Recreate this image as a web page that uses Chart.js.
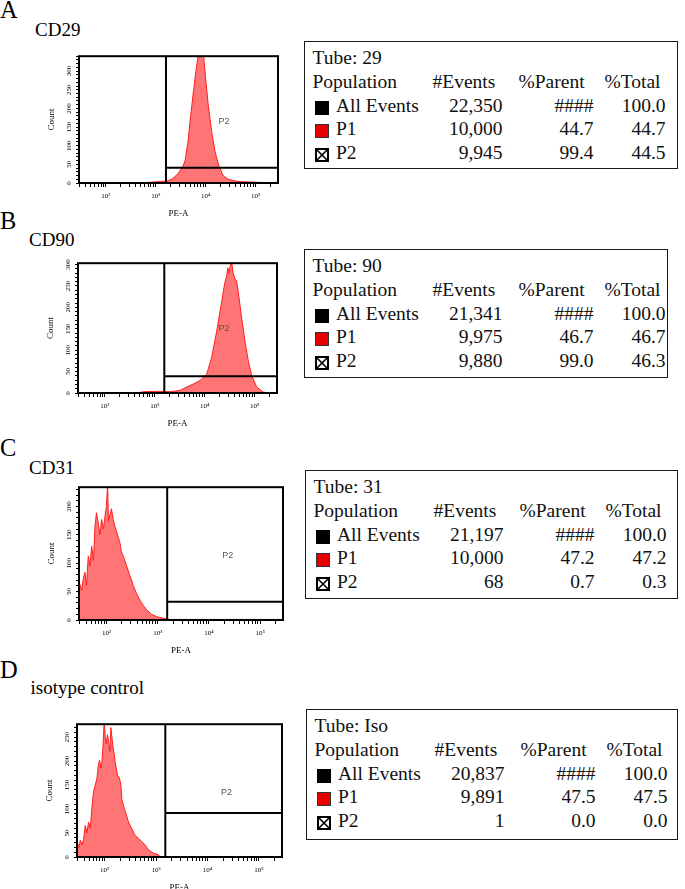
<!DOCTYPE html>
<html>
<head>
<meta charset="utf-8">
<title>Flow cytometry PE-A histograms</title>
<script src="https://cdn.jsdelivr.net/npm/chart.js@4.4.1/dist/chart.umd.min.js"></script>
<style>
  html, body { margin: 0; padding: 0; background: #fff; }
  body { position: relative; width: 685px; height: 889px; overflow: hidden;
         font-family: "Liberation Serif", "DejaVu Serif", "Times New Roman", serif; color: #000; }
  .txt { position: absolute; line-height: 1; white-space: nowrap; }
  .letter { font-size: 24.5px; }
  .marker { font-size: 19px; }
  .plot { position: absolute; }
  .stats { position: absolute; border: 1.5px solid #1a1a1a; box-sizing: border-box; }
  .cell { position: absolute; font-size: 19.5px; line-height: 1; white-space: nowrap; color: #111; }
  .sw { position: absolute; width: 14px; height: 14px; box-sizing: border-box; }
</style>
</head>
<body>
<script>
// Panel captions
const panelLetters = ['A', 'B', 'C', 'D'];
const markerNames = ['CD29', 'CD90', 'CD31', 'isotype control'];
const tubeNames = ['29', '90', '31', 'Iso'];

// Statistics tables
const tableHeader = ['Population', '#Events', '%Parent', '%Total'];
const populations = ['All Events', 'P1', 'P2'];
const cd29Events = ['22,350', '10,000', '9,945'];
const cd29Parent = ['####', '44.7', '99.4'];
const cd29Total = ['100.0', '44.7', '44.5'];
const cd90Events = ['21,341', '9,975', '9,880'];
const cd90Parent = ['####', '46.7', '99.0'];
const cd90Total = ['100.0', '46.7', '46.3'];
const cd31Events = ['21,197', '10,000', '68'];
const cd31Parent = ['####', '47.2', '0.7'];
const cd31Total = ['100.0', '47.2', '0.3'];
const isoEvents = ['20,837', '9,891', '1'];
const isoParent = ['####', '47.5', '0.0'];
const isoTotal = ['100.0', '47.5', '0.0'];

// Histograms: PE-A value and count
const cd29PE = [483, 766, 1213, 1600, 2109, 2780, 3505, 3844, 4413, 4840, 5640, 6300, 7100, 8040, 8810, 9970, 11250, 13150, 15300, 18400, 22500, 28300, 44300, 96900, 176600, 243800];
const cd29Count = [0, 2, 4, 5, 10, 25, 45, 59, 111, 164, 243, 295, 345, 380, 360, 279, 208, 138, 85, 45, 19, 10, 4, 2, 1, 0];

const cd90PE = [450, 589, 1270, 2014, 3192, 4351, 5902, 8040, 10940, 13770, 17340, 21860, 25000, 27540, 29000, 30620, 32500, 34670, 37000, 40370, 43500, 47000, 54960, 64000, 74500, 87100, 109600, 148800, 202800];
const cd90Count = [0, 3, 4, 3, 6, 14, 21, 29, 44, 83, 144, 213, 255, 274, 292, 280, 298, 305, 280, 266, 262, 236, 174, 121, 75, 41, 14, 2, 0];

const cd31PE = [29.4, 32.7, 34.7, 37.9, 40.6, 44.0, 47.5, 51.3, 55.6, 59.5, 63.6, 68.9, 74.4, 80.3, 87.1, 93.1, 99.5, 105, 109, 116.6, 124.8, 135, 146, 157, 171, 183, 195, 212, 229, 247, 268, 286, 309, 332, 358, 387, 449, 520, 606, 759, 950, 1277, 1726, 6640, 40000, 241500];
const cd31Count = [66, 52, 70, 84, 60, 113, 95, 130, 105, 165, 189, 171, 150, 177, 160, 182, 200, 240, 175, 185, 196, 177, 165, 156, 145, 136, 120, 113, 104, 95, 86, 78, 70, 61, 54, 46, 35, 26, 18, 10, 6, 3, 1, 1, 1, 1];

const isoPE = [29.8, 31.7, 33.6, 36.2, 38.9, 42.0, 45.3, 48.6, 52.5, 56.6, 60.8, 65.6, 70.8, 76.0, 79.5, 84.6, 88.5, 93.8, 98, 102.5, 107, 113.5, 118.7, 126.4, 132, 138, 144.5, 153, 160, 177.4, 194, 206.5, 216, 231.7, 250, 270, 290, 312.6, 337, 362, 391, 453, 527, 611, 708, 885, 1106, 1192];
const isoCount = [29, 20, 35, 25, 37, 66, 50, 73, 60, 103, 137, 150, 164, 195, 202, 185, 199, 240, 285, 250, 236, 255, 243, 220, 270, 250, 233, 215, 198, 171, 165, 150, 120, 108, 96, 85, 73, 66, 59, 52, 45, 39, 32, 25, 15, 8, 5, 0];

// P2 gate: lower PE-A bound and marker level (counts), label position
const gateStart = [1600, 1550, 1530, 1510];
const gateLevel = [41, 39, 32, 92];
const p2LabelPE = [23200, 24300, 23400, 23400];
const p2LabelCount = [166, 151, 113, 134];

// Axes
const xMin = 29, xMax = 280000;
const yMax = [340, 303, 234, 277];
const xMajorTicks = [100, 1000, 10000, 100000];
const xTickLabels = ['10²', '10³', '10⁴', '10⁵'];
const xMinorTicks = [30, 40, 50, 60, 70, 80, 90,
  200, 300, 400, 500, 600, 700, 800, 900,
  2000, 3000, 4000, 5000, 6000, 7000, 8000, 9000,
  20000, 30000, 40000, 50000, 60000, 70000, 80000, 90000, 200000];
const yLabelStep = 50;
const yMinorStep = 10;

const histPE = [cd29PE, cd90PE, cd31PE, isoPE];
const histCount = [cd29Count, cd90Count, cd31Count, isoCount];
const statEvents = [cd29Events, cd90Events, cd31Events, isoEvents];
const statParent = [cd29Parent, cd90Parent, cd31Parent, isoParent];
const statTotal = [cd29Total, cd90Total, cd31Total, isoTotal];

// page layout (pixels)
const layout = [
  { letterTop: -2, markerTop: 19.5, markerLeft: 35, plot: { l: 79, t: 54, r: 278, b: 183 }, table: { l: 304, t: 41, w: 374, h: 128 } },
  { letterTop: 208.5, markerTop: 229.5, markerLeft: 29, plot: { l: 78, t: 261, r: 277, b: 393 }, table: { l: 304, t: 249, w: 364, h: 129 } },
  { letterTop: 435.5, markerTop: 457.5, markerLeft: 29, plot: { l: 79, t: 485, r: 283, b: 620 }, table: { l: 305, t: 470, w: 373, h: 129 } },
  { letterTop: 658, markerTop: 677.5, markerLeft: 30.5, plot: { l: 77, t: 722, r: 282, b: 857 }, table: { l: 306, t: 709, w: 372, h: 131 } }
];
const rowBase = [23.5, 47.5, 71.5, 95, 118.5];

function addText(parent, cls, text, left, top) {
  const s = document.createElement('div');
  s.className = cls;
  s.textContent = text;
  s.style.left = left + 'px';
  s.style.top = top + 'px';
  parent.appendChild(s);
  return s;
}

function framePlugin(i) {
  return {
    id: 'facsFrame',
    afterDatasetsDraw(chart) {
      const { ctx, chartArea: a } = chart;
      const x = chart.scales.x, y = chart.scales.y;
      ctx.save();
      ctx.strokeStyle = '#000';
      ctx.lineWidth = 2;
      ctx.strokeRect(a.left, a.top, a.right - a.left, a.bottom - a.top);

      ctx.fillStyle = '#555';
      ctx.font = '9px "Liberation Sans", Arial, sans-serif';
      ctx.textAlign = 'center';
      ctx.textBaseline = 'middle';
      ctx.fillText('P2', x.getPixelForValue(p2LabelPE[i]), y.getPixelForValue(p2LabelCount[i]));

      // rotated count labels
      ctx.fillStyle = '#000';
      ctx.font = '7px "Liberation Serif", serif';
      for (let v = 0; v <= yMax[i]; v += yLabelStep) {
        ctx.save();
        ctx.translate(a.left - 10, y.getPixelForValue(v));
        ctx.rotate(-Math.PI / 2);
        ctx.fillText(String(v), 0, 0);
        ctx.restore();
      }
      ctx.restore();
    }
  };
}

function drawHistogram(i) {
  const p = layout[i].plot;
  const padL = 45, padT = 8, padR = 10, padB = 42;
  const wrap = document.createElement('div');
  wrap.className = 'plot';
  wrap.style.left = (p.l - padL) + 'px';
  wrap.style.top = (p.t - padT) + 'px';
  const canvas = document.createElement('canvas');
  canvas.width = p.r - p.l + padL + padR;
  canvas.height = p.b - p.t + padT + padB;
  wrap.appendChild(canvas);
  document.body.appendChild(wrap);

  const points = histPE[i].map((v, k) => ({ x: v, y: histCount[i][k] }));
  const allXTicks = xMinorTicks.concat(xMajorTicks).sort((a, b) => a - b);

  new Chart(canvas, {
    type: 'scatter',
    data: {
      datasets: [
        { data: [{ x: gateStart[i], y: 0 }, { x: gateStart[i], y: yMax[i] }],
          showLine: true, borderColor: '#000', borderWidth: 2, pointRadius: 0, order: 1 },
        { data: [{ x: gateStart[i], y: gateLevel[i] }, { x: xMax, y: gateLevel[i] }],
          showLine: true, borderColor: '#000', borderWidth: 2, pointRadius: 0, order: 1 },
        { data: points, showLine: true, fill: 'origin',
          backgroundColor: 'rgba(255, 70, 70, 0.75)', borderColor: '#ff1f1f',
          borderWidth: 1, pointRadius: 0, tension: 0, order: 2 }
      ]
    },
    options: {
      responsive: false,
      animation: false,
      events: [],
      layout: { padding: { left: 0, top: padT, right: padR, bottom: 0 } },
      plugins: { legend: { display: false }, tooltip: { enabled: false } },
      scales: {
        x: {
          type: 'logarithmic', min: xMin, max: xMax,
          afterBuildTicks: s => { s.ticks = allXTicks.map(v => ({ value: v })); },
          afterFit: s => { s.height = padB; },
          grid: { drawOnChartArea: false, tickLength: 4, color: '#000', tickWidth: 1 },
          border: { display: false },
          ticks: {
            autoSkip: false, maxRotation: 0, minRotation: 0, padding: 5, color: '#000',
            font: { family: 'Liberation Serif', size: 7 },
            callback: v => {
              const k = xMajorTicks.indexOf(v);
              return k >= 0 ? xTickLabels[k] : '';
            }
          },
          title: { display: true, text: 'PE-A', color: '#000',
                   font: { family: 'Liberation Serif', size: 9 }, padding: { top: 0, bottom: 6 } }
        },
        y: {
          min: 0, max: yMax[i],
          afterBuildTicks: s => {
            const t = [];
            for (let v = 0; v <= yMax[i]; v += yMinorStep) t.push({ value: v });
            s.ticks = t;
          },
          afterFit: s => { s.width = padL; },
          grid: { drawOnChartArea: false, tickLength: 3, color: '#000' },
          border: { display: false },
          ticks: { autoSkip: false, callback: () => '' },
          title: { display: true, text: 'Count', color: '#000',
                   font: { family: 'Liberation Serif', size: 9 }, padding: { top: 12, bottom: 0 } }
        }
      }
    },
    plugins: [framePlugin(i)]
  });
}

function swatch(box, kind, left, base) {
  const s = document.createElement('div');
  s.className = 'sw';
  s.style.left = left + 'px';
  s.style.top = (base - 13) + 'px';
  if (kind === 0) {
    s.style.background = '#000';
  } else if (kind === 1) {
    s.style.background = '#e80000';
    s.style.border = '1px solid #333';
  } else {
    s.innerHTML = '<svg width="14" height="14" viewBox="0 0 14 14"><rect x="1" y="1" width="12" height="12" fill="#fff" stroke="#000" stroke-width="2"/><path d="M1 1L13 13M13 1L1 13" stroke="#000" stroke-width="1.6"/></svg>';
  }
  box.appendChild(s);
}

function drawTable(i) {
  const t = layout[i].table;
  const fs = 19.5, asc = fs * 0.8375;
  const box = document.createElement('div');
  box.className = 'stats';
  box.style.left = t.l + 'px';
  box.style.top = t.t + 'px';
  box.style.width = t.w + 'px';
  box.style.height = t.h + 'px';
  document.body.appendChild(box);

  const inner = t.w - 3;
  function cellL(text, left, base) { addText(box, 'cell', text, left - 1.5, base - asc - 1.5); }
  function cellR(text, right, base) {
    const c = addText(box, 'cell', text, 0, base - asc - 1.5);
    c.style.left = 'auto';
    c.style.right = (inner - (right - 1.5)) + 'px';
  }

  cellL('Tube: ' + tubeNames[i], 9, rowBase[0]);
  cellL(tableHeader[0], 9, rowBase[1]);
  cellL(tableHeader[1], 129, rowBase[1]);
  cellL(tableHeader[2], 215, rowBase[1]);
  cellL(tableHeader[3], 301, rowBase[1]);
  populations.forEach((name, r) => {
    const base = rowBase[r + 2];
    swatch(box, r, 10, base);
    cellL(name, 32.5, base);
    cellR(statEvents[i][r], 198, base);
    cellR(statParent[i][r], 289, base);
    cellR(statTotal[i][r], 361, base);
  });
}

for (let i = 0; i < 4; i++) {
  addText(document.body, 'txt letter', panelLetters[i], 0, layout[i].letterTop);
  addText(document.body, 'txt marker', markerNames[i], layout[i].markerLeft, layout[i].markerTop);
  drawHistogram(i);
  drawTable(i);
}
</script>
</body>
</html>
